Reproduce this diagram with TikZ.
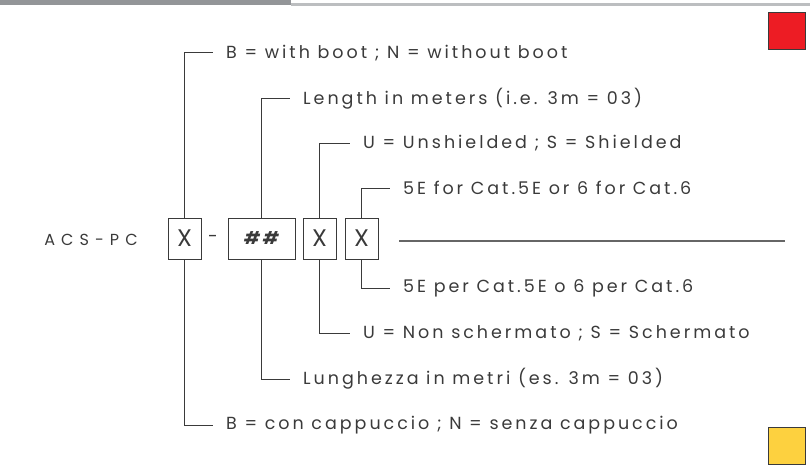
\documentclass[tikz,border=0pt]{standalone}
\usepackage{fontspec}
\setmainfont{Poppins}[LetterSpace=17]
\usetikzlibrary{positioning}

\definecolor{barGray}{HTML}{939598}
\definecolor{ruleGray}{HTML}{BCBEC0}
\definecolor{inkGray}{HTML}{3A3A3A}
\definecolor{tagRed}{HTML}{ED1C24}
\definecolor{tagYellow}{HTML}{FDD13F}

\begin{document}
\begin{tikzpicture}[x=1pt, y=-1pt,
                    codebox/.style={rectangle, draw=inkGray, line width=1pt,
                                    minimum width=33pt, minimum height=41pt,
                                    inner sep=0pt},
                    legend/.style={anchor=west, inner xsep=13pt, inner ysep=0pt},
                    link/.style={draw=inkGray, line width=1pt},
                    tag/.style={rectangle, draw=inkGray, line width=0.9pt,
                                minimum size=37pt, inner sep=0pt},
                    font=\fontsize{17.5pt}{20pt}\selectfont, text=inkGray]
  \useasboundingbox (0, 0) rectangle (810, 468);

  % Header rule.
  \fill [barGray] (0, 0) rectangle (291, 5);
  \fill [ruleGray] (291, 3.5) rectangle (810, 6);

  % Colour tags.
  \node at (786.5, 30.5) [tag, fill=tagRed, name=RedTag] {};
  \node at (786.5, 446) [tag, fill=tagYellow, name=YellowTag] {};

  % Code.
  \node at (91, 240) [name=Prefix]
        {\fontsize{16pt}{18pt}\selectfont\addfontfeature{LetterSpace=38}ACS-PC};
  \node at (184.5, 238.5) [codebox, name=Boot]
        {\fontsize{24pt}{24pt}\selectfont\addfontfeature{LetterSpace=0}X};
  \node at (213, 238.5) [name=Dash] {\addfontfeature{LetterSpace=0}-};
  \node at (261.5, 238.5) [codebox, minimum width=67pt, name=Length]
        {\bfseries\itshape\addfontfeature{LetterSpace=0}\#\,\#};
  \node at (319.5, 238.5) [codebox, name=Shield]
        {\fontsize{24pt}{24pt}\selectfont\addfontfeature{LetterSpace=0}X};
  \node at (361.5, 238.5) [codebox, name=Cat]
        {\fontsize{24pt}{24pt}\selectfont\addfontfeature{LetterSpace=0}X};

  % Line for the full code.
  \coordinate (lineStart) at (399, 241);
  \coordinate (lineEnd) at (785, 241);
  \draw [draw=black!60, line width=1.6pt] (lineStart) -- (lineEnd);

  % English legend.
  \node at (213, 53) [legend, name=BootEn] {B = with boot ; N = without boot};
  \node at (290, 99) [legend, name=LengthEn] {Length in meters (i.e. 3m = 03)};
  \node at (350, 143) [legend, name=ShieldEn] {U = Unshielded ; S = Shielded};
  \node at (390, 188) [legend, name=CatEn] {5E for Cat.5E or 6 for Cat.6};

  % Italian legend.
  \node at (390, 288) [legend, name=CatIt] {5E per Cat.5E o 6 per Cat.6};
  \node at (350, 333) [legend, name=ShieldIt] {U = Non schermato ; S = Schermato};
  \node at (290, 379) [legend, name=LengthIt] {Lunghezza in metri (es. 3m = 03)};
  \node at (213, 425) [legend, name=BootIt] {B = con cappuccio ; N = senza cappuccio};

  % Brackets.
  \draw [link] (Boot.north) |- (BootEn.west);
  \draw [link] (Length.north) |- (LengthEn.west);
  \draw [link] (Shield.north) |- (ShieldEn.west);
  \draw [link] (Cat.north) |- (CatEn.west);
  \draw [link] (Cat.south) |- (CatIt.west);
  \draw [link] (Shield.south) |- (ShieldIt.west);
  \draw [link] (Length.south) |- (LengthIt.west);
  \draw [link] (Boot.south) |- (BootIt.west);
\end{tikzpicture}
\end{document}
